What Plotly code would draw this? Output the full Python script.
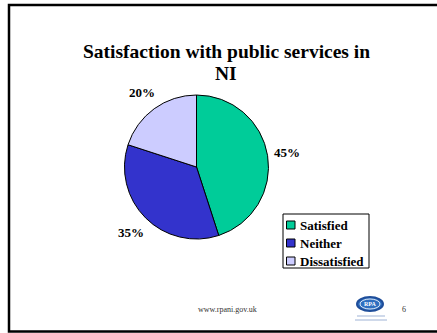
import math
import plotly.graph_objects as go

# Survey result: satisfaction with public services in NI
categories = ["Satisfied", "Neither", "Dissatisfied"]
shares = [45, 35, 20]
colors = ["#00CC99", "#3333CC", "#CCCCFF"]

W, H = 437, 333
SERIF = "Liberation Serif, Times New Roman, serif"


def px(x):
    return x / W


def py(y):
    return 1 - y / H


# pie geometry (pixels)
cx, cy, r = 196.5, 167, 72
label_r = 92

fig = go.Figure(
    go.Pie(
        labels=categories,
        values=shares,
        sort=False,
        direction="clockwise",
        rotation=0,
        marker=dict(colors=colors, line=dict(color="black", width=1)),
        textinfo="none",
        domain=dict(x=[px(cx - r), px(cx + r)], y=[py(cy + r), py(cy - r)]),
        hoverinfo="label+percent",
        showlegend=False,
    )
)

annotations = [
    dict(text="<b>Satisfaction with public services in</b>", x=px(226), y=py(51)),
    dict(text="<b>NI</b>", x=px(226), y=py(73)),
]
for a in annotations:
    a.update(xref="paper", yref="paper", showarrow=False,
             xanchor="center", yanchor="middle",
             font=dict(family=SERIF, size=19.5, color="black"))

# percentage labels placed along each slice's mid-angle
total = sum(shares)
cum = 0
for v in shares:
    mid = (cum + v / 2) / total * 2 * math.pi
    cum += v
    lx = cx + label_r * math.sin(mid)
    ly = cy - label_r * math.cos(mid)
    annotations.append(dict(
        text=f"<b>{v}%</b>", x=px(lx), y=py(ly), xref="paper", yref="paper",
        showarrow=False, xanchor="center", yanchor="middle",
        font=dict(family=SERIF, size=13, color="black")))

# legend box
lg_x0, lg_x1, lg_y0, lg_y1 = 283, 369, 214, 268
row0, row_step = 225, 18
shapes = [
    dict(type="rect", xref="paper", yref="paper",
         x0=px(lg_x0), x1=px(lg_x1), y0=py(lg_y1), y1=py(lg_y0),
         line=dict(color="black", width=1), fillcolor="white"),
]
for i, (name, col) in enumerate(zip(categories, colors)):
    yc = row0 + i * row_step
    shapes.append(dict(type="rect", xref="paper", yref="paper",
                       x0=px(286.5), x1=px(295), y0=py(yc + 4), y1=py(yc - 4),
                       line=dict(color="black", width=1), fillcolor=col))
    annotations.append(dict(
        text=f"<b>{name}</b>", x=px(298), y=py(yc), xref="paper", yref="paper",
        showarrow=False, xanchor="left", yanchor="middle",
        font=dict(family=SERIF, size=13, color="black")))

annotations += [
    dict(text="www.rpani.gov.uk", x=px(227), y=py(309), xref="paper", yref="paper",
         showarrow=False, xanchor="center", yanchor="middle",
         font=dict(family=SERIF, size=8, color="#333333")),
    dict(text="6", x=px(404), y=py(309), xref="paper", yref="paper",
         showarrow=False, xanchor="center", yanchor="middle",
         font=dict(family=SERIF, size=8, color="#333333")),
    dict(text="<b>RPA</b>", x=px(370), y=py(304), xref="paper", yref="paper",
         showarrow=False, xanchor="center", yanchor="middle",
         font=dict(family=SERIF, size=6, color="white")),
]

shapes += [
    # slide frame
    dict(type="rect", xref="paper", yref="paper",
         x0=px(9), x1=px(445), y0=py(331.5), y1=py(5),
         line=dict(color="black", width=2.5), fillcolor="rgba(0,0,0,0)"),
    # logo
    dict(type="circle", xref="paper", yref="paper",
         x0=px(357), x1=px(383), y0=py(311), y1=py(297),
         line=dict(color="#1F4E9A", width=2), fillcolor="#2F6FC0"),
    dict(type="circle", xref="paper", yref="paper",
         x0=px(360), x1=px(380), y0=py(309), y1=py(299),
         line=dict(color="#DDE8F5", width=1), fillcolor="#2F6FC0"),
    dict(type="line", xref="paper", yref="paper",
         x0=px(357), x1=px(385), y0=py(316), y1=py(316),
         line=dict(color="#9FB3D6", width=1)),
    dict(type="line", xref="paper", yref="paper",
         x0=px(355), x1=px(387), y0=py(320), y1=py(320),
         line=dict(color="#9FB3D6", width=1)),
]

fig.update_layout(
    width=W, height=H,
    margin=dict(l=0, r=0, t=0, b=0),
    paper_bgcolor="white",
    plot_bgcolor="white",
    annotations=annotations,
    shapes=shapes,
    showlegend=False,
)

fig.write_html("out.html")
